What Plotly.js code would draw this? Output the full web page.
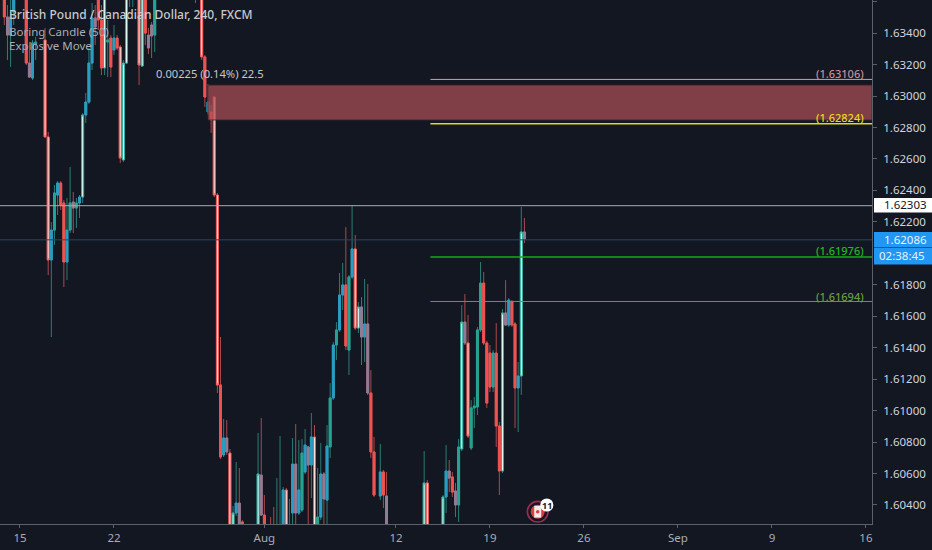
<!DOCTYPE html>
<html><head><meta charset="utf-8">
<script src="https://cdn.plot.ly/plotly-3.0.1.min.js"></script>
<style>html,body{margin:0;padding:0;background:#131722;overflow:hidden}#chart{width:932px;height:550px}</style>
</head><body><div id="chart"></div>
<script>
// Bars counted in 4-hour sessions from 15 Jul.
const barIndex = [-5,-4,-3,-2,2,3,4,5,8,9,10,11,12,13,14,15,16,17,18,19,20,21,22,23,24,25,26,27,28,29,30,31,32,33,34,35,36,38,39,40,41,42,43,56,58,59,60,61,62,63,64,65,66,67,68,69,70,71,76,77,78,80,81,82,83,84,85,86,87,88,89,90,91,92,93,94,95,96,97,98,99,100,101,102,103,104,105,106,107,108,109,110,111,112,113,115,116,117,129,130,135,136,137,138,139,140,141,142,143,144,145,146,147,148,149,150,151,152,153,154,155,156,157,158,159,160,161];
const direction = [
 "d d u u d d u u d d","u u u d d u u d u u","u u u u d d d u u d","u d d u u u u d u d",
 "d d u u d d u d d d","d u d d u u d d u d","d d d u u u d u u d","u u u d u d u u d u",
 "u u u u u d u u d u","d u d d d u d d u d","u u d d d u u d d u","u u u d d d u d d u",
 "d u d d u u d"].join(" ").split(" ");
const kind = [
 "n b b b n b b n x x","b n b n n b n b n b","x b b b b n n x n n","b n x x x n n x x n",
 "b b n n x n b n x x","n b b x x b b n x b","n n n n n b x n b b","b n b b b x n b b b",
 "n b n b b n n b x x","b b b n n b n b x x","x b b n b n x b x n","n n n n n n n n n x",
 "b b n n b x b"].join(" ").split(" ");
const bodyHigh = [1.63675,1.63503,1.63503,1.63675,1.63675,1.63210,1.63338,1.63344,1.63357,1.62740,1.62148,1.62384,1.62447,1.62447,1.62320,1.62148,1.62320,1.62326,1.62320,1.62358,1.62880,1.62962,1.63210,1.63497,1.63497,1.63675,1.63484,1.63675,1.63357,1.63369,1.63369,1.63369,1.63312,1.63210,1.63675,1.63802,1.63802,1.63675,1.63675,1.63675,1.63388,1.63452,1.63675,1.63802,1.63675,1.63249,1.62962,1.62899,1.62994,1.62371,1.61163,1.60826,1.60826,1.60730,1.60349,1.60412,1.60412,1.60292,1.60597,1.60590,1.60336,1.60241,1.60241,1.60241,1.60241,1.60495,1.60495,1.60241,1.60660,1.60660,1.60495,1.60730,1.60781,1.60769,1.60832,1.60832,1.60323,1.60597,1.60597,1.60775,1.61080,1.61417,1.61513,1.61735,1.61799,1.61799,1.61850,1.62028,1.62028,1.61659,1.61659,1.61551,1.61551,1.61112,1.60737,1.60610,1.60610,1.60457,1.60540,1.60540,1.60451,1.60616,1.60616,1.60578,1.60489,1.60769,1.61563,1.61563,1.61430,1.61017,1.61029,1.61513,1.61811,1.61811,1.61430,1.61366,1.61366,1.61366,1.60902,1.61621,1.61621,1.61703,1.61691,1.61551,1.61220,1.62136,1.62136];
const bodyLow = [1.63503,1.63388,1.63388,1.63535,1.63210,1.63121,1.63115,1.63331,1.62740,1.61958,1.61958,1.62148,1.62371,1.62307,1.61945,1.61945,1.62148,1.62288,1.62288,1.62320,1.62358,1.62880,1.62962,1.63210,1.63439,1.63484,1.63179,1.63179,1.63344,1.63185,1.63293,1.63306,1.62606,1.62594,1.63210,1.63738,1.63738,1.63198,1.63191,1.63401,1.63306,1.63382,1.63388,1.63738,1.63249,1.62994,1.62899,1.62848,1.62371,1.61163,1.60705,1.60718,1.60737,1.60209,1.60209,1.60349,1.60209,1.60209,1.60209,1.60336,1.60209,1.60209,1.60209,1.60209,1.60209,1.60209,1.60209,1.60209,1.60349,1.60349,1.60349,1.60368,1.60610,1.60654,1.60654,1.60209,1.60279,1.60323,1.60438,1.60431,1.60769,1.61080,1.61417,1.61513,1.61735,1.61411,1.61385,1.61850,1.61525,1.61525,1.61468,1.61468,1.61112,1.60737,1.60463,1.60457,1.60463,1.60209,1.60209,1.60209,1.60209,1.60451,1.60571,1.60482,1.60400,1.60400,1.60756,1.61430,1.60838,1.60762,1.61017,1.61023,1.61513,1.61430,1.61048,1.61150,1.61150,1.60902,1.60616,1.60616,1.61544,1.61544,1.61544,1.61144,1.61144,1.61220,1.62091];
const wickHigh = [1.63738,1.63579,1.63675,1.63738,1.63738,1.63293,1.63357,1.63376,1.63433,1.62772,1.62199,1.62435,1.62460,1.62460,1.62339,1.62352,1.62549,1.62390,1.62352,1.62371,1.62892,1.63020,1.63306,1.63592,1.63579,1.63738,1.63579,1.63738,1.63484,1.63388,1.63452,1.63388,1.63325,1.63229,1.63738,1.63865,1.63865,1.63738,1.63738,1.63738,1.63433,1.63471,1.63738,1.63865,1.63738,1.63261,1.63077,1.62943,1.63001,1.62384,1.61468,1.60947,1.60940,1.60756,1.60393,1.60673,1.60635,1.60304,1.60858,1.60953,1.60463,1.60323,1.60387,1.60571,1.60838,1.60514,1.60508,1.60438,1.60826,1.60915,1.60813,1.60819,1.60883,1.60775,1.60985,1.60908,1.60635,1.60794,1.60610,1.60908,1.61175,1.61436,1.61563,1.61875,1.61939,1.62167,1.61862,1.62307,1.62117,1.61691,1.61722,1.61837,1.61805,1.61258,1.60832,1.60788,1.60622,1.60610,1.60743,1.60559,1.60463,1.60781,1.60686,1.60610,1.60540,1.60819,1.61671,1.61741,1.61608,1.61067,1.61086,1.61532,1.61945,1.61881,1.61443,1.61417,1.61385,1.61557,1.60928,1.61646,1.61830,1.61716,1.61703,1.61563,1.61309,1.62295,1.62225];
const wickLow = [1.63452,1.63229,1.63185,1.63452,1.63198,1.63115,1.63102,1.63229,1.62740,1.61862,1.61468,1.62053,1.62244,1.62276,1.61786,1.61830,1.62129,1.62129,1.62161,1.62225,1.62320,1.62829,1.62950,1.63166,1.63325,1.63420,1.63134,1.63134,1.63121,1.63121,1.63261,1.63293,1.62574,1.62581,1.63204,1.63566,1.63566,1.63070,1.63185,1.63325,1.63268,1.63242,1.63280,1.63592,1.63229,1.62931,1.62880,1.62765,1.62358,1.61112,1.60692,1.60705,1.60718,1.60177,1.60177,1.60330,1.60177,1.60177,1.60177,1.60330,1.60177,1.60177,1.60177,1.60177,1.60177,1.60177,1.60177,1.60177,1.60177,1.60177,1.60336,1.60355,1.60597,1.60273,1.60444,1.60177,1.60177,1.60304,1.60273,1.60273,1.60699,1.61067,1.61322,1.61500,1.61640,1.61385,1.61226,1.61837,1.61513,1.61493,1.61290,1.61309,1.61099,1.60699,1.60451,1.60431,1.60381,1.60177,1.60177,1.60177,1.60177,1.60349,1.60482,1.60451,1.60323,1.60292,1.60743,1.61417,1.60826,1.60749,1.60889,1.60972,1.61500,1.61417,1.61017,1.61118,1.61118,1.60769,1.60463,1.60603,1.61538,1.61532,1.61532,1.60889,1.60864,1.61099,1.62066];
const xTickBars = [0,30,78,120,150,180,210,240,270];
const xTickText = ["15","22","Aug","12","19","26","Sep","9","16"];
const priceTicks = [1.604,1.606,1.608,1.61,1.612,1.614,1.616,1.618,1.622,1.624,1.626,1.628,1.63,1.632,1.634,1.636];
const levels = [1.63106,1.62824,1.61976,1.61694];
const levelColors = ["#e09a9e","#e8d810","#15ad15","#6c9a38"];
const labelColors = ["#c98c9a","#e8d820","#22b822","#6f9a45"];
const zoneTop = 1.6307, zoneBottom = 1.62848;
const highPrice = 1.62303, lastPrice = 1.62086, countdown = "02:38:45";

const YT = 1.63611, YB = 1.60279, XL = -6.38, XR = 271.94;
const W = 872, H = 524;
const px = v => v / W, py = v => 1 - v / H;
const font = 'Noto Sans, Open Sans, sans-serif';

const up = direction.map(d => d === "u");
const pick = (arr, f) => arr.filter((_, i) => f(i));
function candle(f, high, low, incCol, incFill, decCol, decFill, lw) {
  return {type:'candlestick', x:pick(barIndex,f),
    open:pick(barIndex.map((_,i)=>up[i]?bodyLow[i]:bodyHigh[i]),f),
    close:pick(barIndex.map((_,i)=>up[i]?bodyHigh[i]:bodyLow[i]),f),
    high:pick(high,f), low:pick(low,f), whiskerwidth:0, hoverinfo:'skip', showlegend:false,
    increasing:{line:{color:incCol,width:lw},fillcolor:incFill},
    decreasing:{line:{color:decCol,width:lw},fillcolor:decFill}};
}
const all = () => true;
const traces = [
  candle(all, wickHigh, wickLow, '#2a7d76', '#2a7d76', '#a84a4d', '#a84a4d', 1),
  candle(i=>kind[i]==='n', bodyHigh, bodyLow, '#26a392', '#26a392', '#ef5350', '#ef5350', 1),
  candle(i=>kind[i]==='b', bodyHigh, bodyLow, '#2a9dc4', '#2a9dc4', '#8f7d96', '#8f7d96', 1),
  candle(i=>kind[i]==='x', bodyHigh, bodyLow, '#2fae9e', '#eafff9', '#ef5a58', '#ffe6e0', 1)
];

const shapes = [
  {type:'line',xref:'paper',x0:0,x1:1,yref:'y',y0:highPrice,y1:highPrice,line:{color:'#a8acb3',width:1}},
  {type:'line',xref:'paper',x0:0,x1:1,yref:'y',y0:lastPrice,y1:lastPrice,line:{color:'#1f4a70',width:1}},
  {type:'rect',xref:'x',x0:60,x1:XR,yref:'y',y0:zoneBottom,y1:zoneTop,fillcolor:'rgba(170,78,84,0.72)',line:{color:'rgba(60,35,40,0.8)',width:1}},
];
levels.forEach((v,i)=>shapes.push({type:'line',xref:'x',x0:131,x1:XR,yref:'y',y0:v,y1:v,line:{color:levelColors[i],width:i===1||i===2?1.5:1}}));
// price axis tags
const tag=(y0,y1,c)=>({type:'rect',xref:'paper',yref:'paper',x0:px(874),x1:px(932),y0:py(y1),y1:py(y0),fillcolor:c,line:{width:0}});
shapes.push(tag(198,212.5,'#ffffff'),tag(232,247.5,'#2196f3'),tag(248,264.5,'#2196f3'));
// event marker
const circ=(cx,cy,r,o)=>Object.assign({type:'circle',xref:'paper',yref:'paper',x0:px(cx-r),x1:px(cx+r),y0:py(cy+r),y1:py(cy-r),line:{width:0}},o);
shapes.push(circ(537.7,511.7,10.3,{fillcolor:'#131722',line:{color:'#a02a4e',width:1.6}}));
shapes.push(circ(537.7,511.7,7,{fillcolor:'#e23b45'}));
shapes.push({type:'rect',xref:'paper',yref:'paper',x0:px(534.2),x1:px(541.2),y0:py(517.6),y1:py(505.8),fillcolor:'#f5e9ea',line:{width:0}});
shapes.push(circ(537.7,511.7,1.8,{fillcolor:'#e23b45'}));
shapes.push(circ(546.8,505,6.6,{fillcolor:'#ffffff'}));

const note=(text,x,y,size,color,anchor,weight)=>({text,xref:'paper',yref:'paper',x:px(x),y:py(y),xanchor:anchor||'left',yanchor:'middle',showarrow:false,borderpad:0,font:{family:font,size,color,weight:weight||400}});
const annotations=[
  note('British Pound / Canadian Dollar, 240, FXCM',8,15,12,'#c6c9ce',null,500),
  note('Boring Candle (50)',8,31,11.5,'#a9adb3'),
  note('Explosive Move',8,46,11.5,'#a9adb3'),
  note('0.00225 (0.14%) 22.5',155,74,11.2,'#c4c7cc'),
  note('1.62303',883,205,11.5,'#131722'),
  note(lastPrice.toFixed(5),883,239.5,11.5,'#e8f3ff'),
  note(countdown,878,256,11.5,'#e8f3ff'),
  note('11',546.8,505,9,'#131722','center',700)
];
levels.forEach((v,i)=>annotations.push(note('('+v.toFixed(5)+')',865,[74,117.5,251,296][i],11,labelColors[i],'right',500)));

Plotly.newPlot('chart',traces,{
  width:932,height:550,paper_bgcolor:'#131722',plot_bgcolor:'#131722',
  margin:{l:0,r:60,t:0,b:26,pad:0},showlegend:false,boxgap:0.12,
  xaxis:{range:[XL,XR],rangeslider:{visible:false},tickmode:'array',tickvals:xTickBars,ticktext:xTickText,
    showgrid:false,zeroline:false,showline:true,linecolor:'#5c6068',linewidth:1,ticks:'outside',ticklen:3,tickcolor:'#5c6068',
    tickfont:{family:font,size:11.5,color:'#a9adb5'}},
  yaxis:{range:[YB,YT],side:'right',tickmode:'array',tickvals:priceTicks,ticktext:priceTicks.map(v=>v.toFixed(5)),
    showgrid:false,zeroline:false,showline:true,linecolor:'#5c6068',linewidth:1,ticks:'outside',ticklen:4,tickcolor:'#5c6068',ticklabelstandoff:4,
    tickfont:{family:font,size:11.5,color:'#d1d4dc'}},
  shapes,annotations
},{staticPlot:true,displayModeBar:false});
</script></body></html>
